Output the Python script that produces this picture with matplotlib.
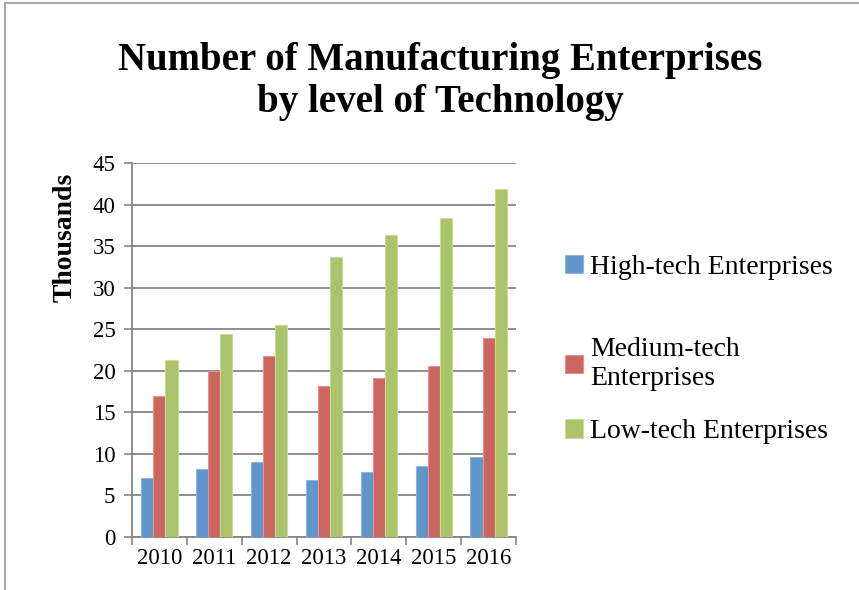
import numpy as np
import matplotlib.pyplot as plt
from matplotlib.lines import Line2D

years = ["2010", "2011", "2012", "2013", "2014", "2015", "2016"]
high_tech = [7.1, 8.2, 9.0, 6.9, 7.8, 8.6, 9.6]
medium_tech = [17.0, 20.0, 21.8, 18.2, 19.1, 20.6, 23.9]
low_tech = [21.3, 24.4, 25.5, 33.7, 36.3, 38.4, 41.9]
labels = ["High-tech Enterprises", "Medium-tech\nEnterprises", "Low-tech Enterprises"]
colors = ["#6096CB", "#CC6560", "#ABC46B"]
edges = ["#8FB6DE", "#DE9592", "#C8DA98"]

plt.rcParams['font.family'] = ['Liberation Serif', 'DejaVu Serif']

fig = plt.figure(figsize=(8.59, 5.90), dpi=100)
ax = fig.add_axes([0.1537, 0.0898, 0.447, 0.634])

x = np.arange(len(years))
w = 0.22
bars = []
for i, vals in enumerate([high_tech, medium_tech, low_tech]):
    b = ax.bar(x + (i - 1) * w, vals, w, color=colors[i], edgecolor=edges[i], linewidth=0.8, zorder=3)
    bars.append(b)

ax.set_xlim(-0.5, len(years) - 0.5)
ax.set_ylim(0, 45)
ax.set_yticks(np.arange(0, 46, 5))
ax.set_xticks(x)
ax.set_xticklabels(years)
ax.set_xticks(np.arange(-0.5, len(years), 1), minor=True)
ax.tick_params(axis='x', which='major', length=0, labelsize=16.5, pad=8)
ax.tick_params(axis='x', which='minor', length=6, color='#868686', width=1.2)
ax.tick_params(axis='y', length=6, color='#868686', width=1.2, labelsize=16.5, pad=6)
ax.grid(axis='y', color='#868686', linewidth=1.3, zorder=0)
for s in ['top', 'right']:
    ax.spines[s].set_visible(False)
for s in ['left', 'bottom']:
    ax.spines[s].set_color('#868686')
    ax.spines[s].set_linewidth(1.3)

fig.text(0.513, 0.862, "Number of Manufacturing Enterprises\nby level of Technology",
         ha='center', va='center', fontsize=28, fontweight='bold', linespacing=1.15)
fig.text(0.076, 0.597, "Thousands", rotation=90, ha='center', va='center',
         fontsize=20, fontweight='bold')

legend_y = [0.547, 0.383, 0.268]
for b, lab, ly in zip(bars, labels, legend_y):
    fig.legend([b], [lab], loc='center left', bbox_to_anchor=(0.658, ly), frameon=False,
               fontsize=20, handlelength=0.65, handleheight=0.65, handletextpad=0.25,
               borderaxespad=0, borderpad=0, labelspacing=0.3)

fig.add_artist(Line2D([0.006, 0.006], [0.0, 0.995], transform=fig.transFigure, color='#9a9a9a', linewidth=1.2))
fig.add_artist(Line2D([0.006, 1.0], [0.995, 0.995], transform=fig.transFigure, color='#9a9a9a', linewidth=1.2))

fig.savefig("out.png", dpi=100)
